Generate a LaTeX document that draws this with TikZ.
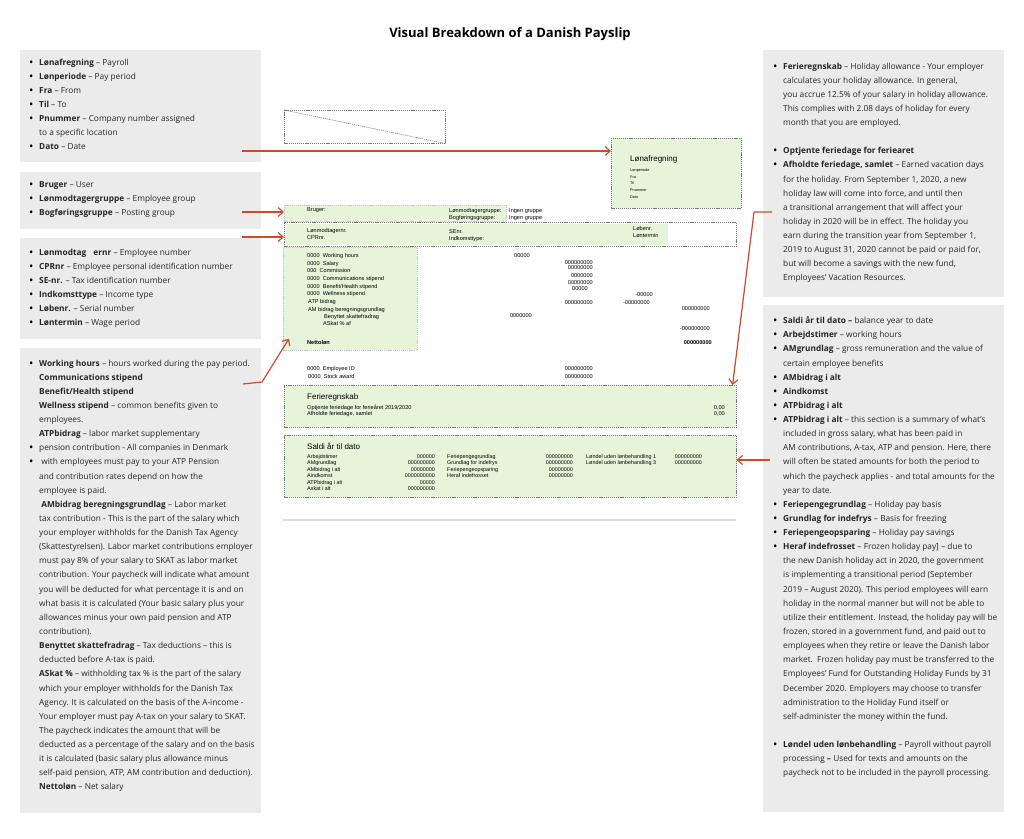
\documentclass[tikz,border=0pt]{standalone}
\usepackage{fontspec}
\setmainfont{Open Sans}
\newfontfamily\slipfont{Liberation Sans}
\usetikzlibrary{positioning, arrows.meta}
\definecolor{panelgray}{HTML}{EBEBEB}
\definecolor{slipgreen}{HTML}{E6F4D9}
\definecolor{arrowred}{HTML}{CC4A2E}
\definecolor{dashgray}{HTML}{7A7A7A}
\definecolor{rulegray}{HTML}{DCDCDC}
\newcommand\itm{\makebox[10pt][l]{\color{black}\fontsize{11.5}{11.5}\selectfont\raisebox{-1pt}{\textbullet}}}
\newcommand\ind{\hspace*{10pt}}
\tikzset{
    panel/.style = {
        rectangle,
        fill=panelgray,
        anchor=north west,
        inner sep=0pt
    },
    note/.style = {
        anchor=north west,
        inner sep=0pt,
        align=left,
        text=black!85,
        font=\fontsize{8.3}{14.13}\selectfont
    },
    dotline/.style  = {dash pattern=on 1.2pt off 0.9pt, line width=0.6pt},
    slipbox/.style  = {rectangle, fill=slipgreen, draw=dashgray, dotline, anchor=north west, inner sep=0pt},
    lightbox/.style = {slipbox, draw=black!22},
    fillbox/.style  = {rectangle, fill=slipgreen, anchor=north west, inner sep=0pt},
    dashbox/.style  = {rectangle, draw=dashgray, dotline, anchor=north west, inner sep=0pt},
    slip/.style      = {anchor=base west, inner sep=0pt, font=\slipfont\fontsize{5.6}{6.6}\selectfont},
    num/.style       = {slip, anchor=base east},
    saldo/.style     = {slip, font=\slipfont\fontsize{5.4}{6}\selectfont},
    saldonum/.style  = {saldo, anchor=base east},
    tinyslip/.style  = {slip, font=\slipfont\fontsize{3.8}{4.5}\selectfont},
    sliptitle/.style = {slip, font=\slipfont\fontsize{8}{9}\selectfont},
    arrow/.style = {-{Straight Barb[length=5pt, width=9pt]}, draw=arrowred, line width=1.2pt}
}

\begin{document}
\begin{tikzpicture}[x=1pt, y=-1pt]
\useasboundingbox (0,0) rectangle (1024,838);

% Titel
\node[font=\bfseries\fontsize{13}{15}\selectfont] (title) at (510,34) {Visual Breakdown of a Danish Payslip};

% --- LINKS ---
\node[panel, minimum width=241pt, minimum height=112pt] (pA) at (20,50) {};
\node[note] (tA) at (29,58.5) {%
\itm\textbf{Lønafregning} – Payroll\\
\itm\textbf{Lønperiode} – Pay period\\
\itm\textbf{Fra} – From\\
\itm\textbf{Til} – To\\
\itm\textbf{Pnummer} – Company number assigned\\
\ind to a specific location\\
\itm\textbf{Dato} – Date};

\node[panel, minimum width=241pt, minimum height=57pt] (pB) at (20,172) {};
\node[note] (tB) at (29,181.5) {%
\itm\textbf{Bruger} – User\\
\itm\textbf{Lønmodtagergruppe} – Employee group\\
\itm\textbf{Bogføringsgruppe} – Posting group};

\node[panel, minimum width=241pt, minimum height=101pt] (pC) at (20,238) {};
\node[note] (tC) at (29,248.5) {%
\itm\textbf{Lønmodtag\hspace{5pt} ernr} – Employee number\\
\itm\textbf{CPRnr} – Employee personal identification number\\
\itm\textbf{SE-nr.} – Tax identification number\\
\itm\textbf{Indkomsttype} – Income type\\
\itm\textbf{Løbenr.} – Serial number\\
\itm\textbf{Løntermin} – Wage period};

\node[panel, minimum width=241pt, minimum height=465pt] (pD) at (20,348) {};
\node[note] (tD) at (29,359.5) {%
\itm\textbf{Working hours} – hours worked during the pay period.\\
\ind\textbf{Communications stipend}\\
\ind\textbf{Benefit/Health stipend}\\
\ind\textbf{Wellness stipend} – common benefits given to\\
\ind employees.\\
\ind\textbf{ATPbidrag} – labor market supplementary\\
\itm pension contribution - All companies in Denmark\\
\itm\ with employees must pay to your ATP Pension\\
\ind and contribution rates depend on how the\\
\ind employee is paid.\\
\ind\ \textbf{AMbidrag beregningsgrundlag} – Labor market\\
\ind tax contribution - This is the part of the salary which\\
\ind your employer withholds for the Danish Tax Agency\\
\ind (Skattestyrelsen). Labor market contributions employer\\
\ind must pay 8\% of your salary to SKAT as labor market\\
\ind contribution. Your paycheck will indicate what amount\\
\ind you will be deducted for what percentage it is and on\\
\ind what basis it is calculated (Your basic salary plus your\\
\ind allowances minus your own paid pension and ATP\\
\ind contribution).\\
\ind\textbf{Benyttet skattefradrag} – Tax deductions – this is\\
\ind deducted before A-tax is paid.\\
\ind\textbf{ASkat \%} – withholding tax \% is the part of the salary\\
\ind which your employer withholds for the Danish Tax\\
\ind Agency. It is calculated on the basis of the A-income -\\
\ind Your employer must pay A-tax on your salary to SKAT.\\
\ind The paycheck indicates the amount that will be\\
\ind deducted as a percentage of the salary and on the basis\\
\ind it is calculated (basic salary plus allowance minus\\
\ind self-paid pension, ATP, AM contribution and deduction).\\
\ind\textbf{Nettoløn} – Net salary};

% --- RECHTS ---
\node[panel, minimum width=241pt, minimum height=247pt] (pE) at (763,50) {};
\node[note] (tE) at (773,62.5) {%
\itm\textbf{Ferieregnskab} – Holiday allowance - Your employer\\
\ind calculates your holiday allowance. In general,\\
\ind you accrue 12.5\% of your salary in holiday allowance.\\
\ind This complies with 2.08 days of holiday for every\\
\ind month that you are employed.\\[14.13pt]
\itm\textbf{Optjente feriedage for feriearet}\\
\itm\textbf{Afholdte feriedage, samlet} – Earned vacation days\\
\ind for the holiday. From September 1, 2020, a new\\
\ind holiday law will come into force, and until then\\
\ind a transitional arrangement that will affect your\\
\ind holiday in 2020 will be in effect. The holiday you\\
\ind earn during the transition year from September 1,\\
\ind 2019 to August 31, 2020 cannot be paid or paid for,\\
\ind but will become a savings with the new fund,\\
\ind Employees' Vacation Resources.};

\node[panel, minimum width=241pt, minimum height=507pt] (pF) at (763,305) {};
\node[note] (tF) at (773,316.5) {%
\itm\textbf{Saldi år til dato –} balance year to date\\
\itm\textbf{Arbejdstimer} – working hours\\
\itm\textbf{AMgrundlag} – gross remuneration and the value of\\
\ind certain employee benefits\\
\itm\textbf{AMbidrag i alt}\\
\itm\textbf{Aindkomst}\\
\itm\textbf{ATPbidrag i alt}\\
\itm\textbf{ATPbidrag i alt} – this section is a summary of what's\\
\ind included in gross salary, what has been paid in\\
\ind AM contributions, A-tax, ATP and pension. Here, there\\
\ind will often be stated amounts for both the period to\\
\ind which the paycheck applies - and total amounts for the\\
\ind year to date.\\
\itm\textbf{Feriepengegrundlag} – Holiday pay basis\\
\itm\textbf{Grundlag for indefrys} – Basis for freezing\\
\itm\textbf{Feriepengeopsparing} – Holiday pay savings\\
\itm\textbf{Heraf indefrosset} – Frozen holiday pay] – due to\\
\ind the new Danish holiday act in 2020, the government\\
\ind is implementing a transitional period (September\\
\ind 2019 – August 2020). This period employees will earn\\
\ind holiday in the normal manner but will not be able to\\
\ind utilize their entitlement. Instead, the holiday pay will be\\
\ind frozen, stored in a government fund, and paid out to\\
\ind employees when they retire or leave the Danish labor\\
\ind market.\ \ Frozen holiday pay must be transferred to the\\
\ind Employees' Fund for Outstanding Holiday Funds by 31\\
\ind December 2020. Employers may choose to transfer\\
\ind administration to the Holiday Fund itself or\\
\ind self-administer the money within the fund.\\[14.13pt]
\itm\textbf{Løndel uden lønbehandling} – Payroll without payroll\\
\ind processing \textbf{–} Used for texts and amounts on the\\
\ind paycheck not to be included in the payroll processing.};

% --- LØNSEDDEL ---
\node[dashbox, minimum width=161pt, minimum height=33pt] (logo) at (284,110) {};
\draw[dashgray, dotline] (logo.north west) -- (logo.south east);

\node[slipbox, minimum width=130pt, minimum height=70pt] (lonaf) at (611,138) {};
\node[sliptitle] (lonafT) at (630,161) {Lønafregning};
\foreach \t [count=\i] in {Lønperiode, Fra, Til, Pnummer, Dato}
    \node[tinyslip] (lonaf\i) at (630, 165.1+6.6*\i) {\t};

\node[lightbox, minimum width=222pt, minimum height=16pt] (bruger) at (284,205) {};
\node[slip] (brugerT) at (307,211) {Bruger:};
\node[slip] (grpA) at (449,212) {Lønmodtagergruppe:};
\node[slip] (grpB) at (449,219) {Bogføringsgruppe:};
\node[slip] (grpAv) at (509,212) {Ingen gruppe};
\node[slip] (grpBv) at (509,219) {Ingen gruppe};

\node[fillbox, minimum width=383pt, minimum height=21pt] (identF) at (285,223.5) {};
\node[dashbox, minimum width=452pt, minimum height=24pt] (ident) at (284,222) {};
\node[slip] (idA) at (307,232) {Lønmodtagernr.};
\node[slip] (idB) at (307,239) {CPRnr.};
\node[slip] (idC) at (449,233) {SEnr.};
\node[slip] (idD) at (449,240) {Indkomsttype:};
\node[slip] (idE) at (633,230) {Løbenr.};
\node[slip] (idF) at (633,237) {Løntermin};

% Linjer
\node[lightbox, minimum width=134pt, minimum height=103pt] (lines) at (283,247) {};
\foreach \x/\y/\t [count=\i] in {
    307/257/{0000\ \ Working hours},
    307/265/{0000\ \ Salary},
    307/272/{000\ \ Commission},
    307/280/{0000\ \ Communications stipend},
    307/288/{0000\ \ Benefit/Health stipend},
    307/295/{0000\ \ Wellness stipend},
    308/303/{ATP bidrag},
    308/311/{AM bidrag beregningsgrundlag},
    324/318/{Benyttet skattefradrag},
    323/325/{ASkat \% af},
    307/370/{0000\ \ Employee ID},
    308/378/{0000\ \ Stock award}}
    \node[slip] (lab\i) at (\x,\y) {\t};
\node[slip, font=\slipfont\bfseries\fontsize{5.6}{6.6}\selectfont] (netto) at (307,344) {Nettoløn};

\foreach \x/\y/\t [count=\i] in {
    530/257/00000, 593/264/000000000, 593/269/00000000, 593/277/0000000,
    593/284/00000000, 588/290/00000, 653/296/-00000, 593/304/000000000,
    650/304/-00000000, 710/310/000000000, 532/317/0000000, 710/330/-000000000,
    593/370/000000000, 593/378/000000000}
    \node[num] (val\i) at (\x,\y) {\t};
\node[num, font=\slipfont\bfseries\fontsize{5.6}{6.6}\selectfont] (nettoV) at (712,344) {000000000};

% Ferieregnskab
\node[slipbox, minimum width=452pt, minimum height=42pt] (ferie) at (284,385) {};
\node[sliptitle] (ferieT) at (307,399) {Ferieregnskab};
\node[slip] (ferieA) at (307,409) {Optjente feriedage for ferieåret 2019/2020};
\node[slip] (ferieB) at (307,415) {Afholdte feriedage, samlet};
\node[num] (ferieAv) at (725,409) {0,00};
\node[num] (ferieBv) at (725,415) {0,00};

% Saldi
\node[slipbox, minimum width=452pt, minimum height=62pt] (saldi) at (284,435) {};
\node[sliptitle] (saldiT) at (307,449) {Saldi år til dato};
\foreach \t/\v [count=\i] in {Arbejdstimer/000000, AMgrundlag/000000000, AMbidrag i alt/00000000,
    Aindkomst/0000000000, ATPbidrag i alt/00000, Askat i alt/000000000} {
    \node[saldo] (sa\i) at (307, 451.5+6.5*\i) {\t};
    \node[saldonum] (sav\i) at (435, 451.5+6.5*\i) {\v};
}
\foreach \t/\v [count=\i] in {Feriepengegrundlag/000000000, Grundlag for indefrys/000000000,
    Feriepengeopsparing/00000000, Heraf indefrosset/00000000} {
    \node[saldo] (sb\i) at (447, 451.5+6.5*\i) {\t};
    \node[saldonum] (sbv\i) at (573, 451.5+6.5*\i) {\v};
}
\foreach \t/\v [count=\i] in {Løndel uden lønbehandling 1/000000000, Løndel uden lønbehandling 3/000000000} {
    \node[saldo] (sc\i) at (586, 451.5+6.5*\i) {\t};
    \node[saldonum] (scv\i) at (702, 451.5+6.5*\i) {\v};
}

\draw[rulegray, line width=2pt] (283,520) -- (736,520);

% Pile
\coordinate (a1) at (242,151);
\coordinate (a2) at (242,212);
\coordinate (a3) at (242,237);
\coordinate (a4) at (243,384);
\coordinate (a5) at (772,212);
\coordinate (a6) at (770,460);

\draw[arrow] (a1) -- (lonaf.west |- a1);
\draw[arrow] (a2) -- (bruger.west |- a2);
\draw[arrow] (a3) -- (ident.west |- a3);
\draw[arrow] (a4) -- (262,382) -- ([shift={(6pt,12pt)}]lines.south west);
\draw[arrow] (a5) -- (754,212) -- ([xshift=-4pt]ferie.north east);
\draw[arrow] (a6) -- (saldi.east |- a6);

\end{tikzpicture}
\end{document}
